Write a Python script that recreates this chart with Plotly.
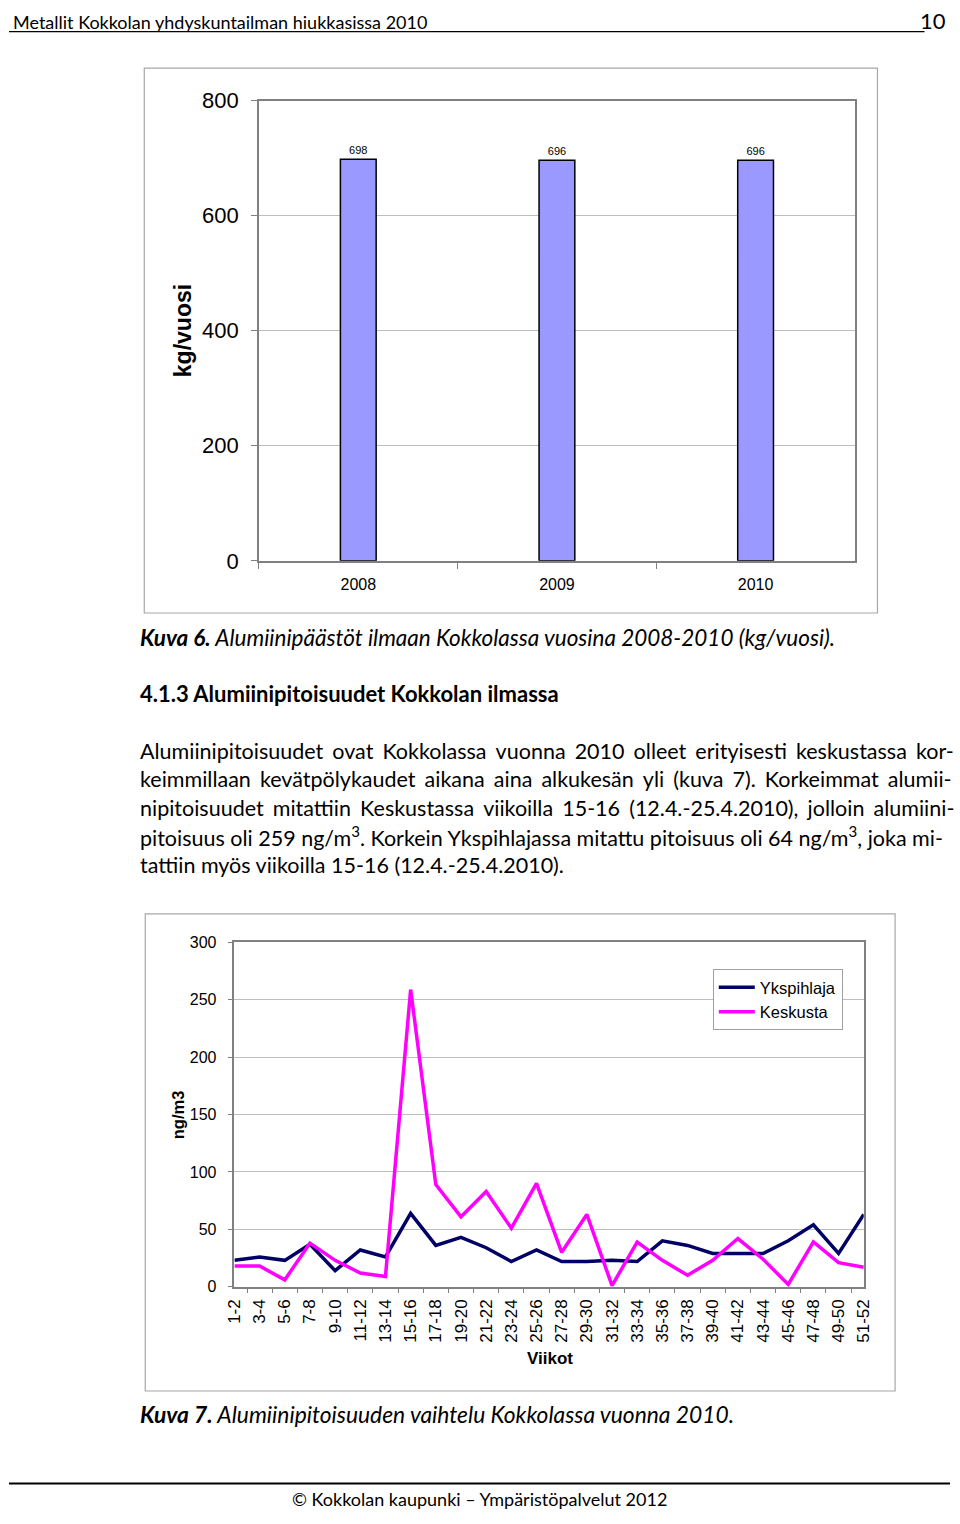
import plotly.graph_objects as go

W, H = 960, 1524

# ---- data ----
years = ["2008", "2009", "2010"]
emissions = [698, 696, 696]

weeks = ["1-2", "3-4", "5-6", "7-8", "9-10", "11-12", "13-14", "15-16", "17-18", "19-20",
         "21-22", "23-24", "25-26", "27-28", "29-30", "31-32", "33-34", "35-36", "37-38",
         "39-40", "41-42", "43-44", "45-46", "47-48", "49-50", "51-52"]
ykspihlaja = [23, 26, 23, 37, 14, 32, 26, 64, 36, 43, 34, 22, 32, 22, 22, 23, 22, 40, 36,
              29, 29, 29, 40, 54, 29, 63]
keskusta = [18, 18, 6, 38, 23, 12, 9, 259, 89, 61, 83, 51, 90, 30, 63, 1, 39, 23, 10,
            23, 42, 24, 2, 39, 21, 17]


def px(x):
    return x / W


def py(y):
    return 1 - y / H


TXT = "Lato"
CH = "Liberation Sans Narrow, Arial Narrow, Liberation Sans, Arial"

fig = go.Figure()

fig.add_trace(go.Bar(
    x=years, y=emissions, xaxis="x", yaxis="y", width=0.18,
    marker=dict(color="#9999FF", line=dict(color="black", width=1.5)),
    text=emissions, textposition="outside", cliponaxis=False,
    textfont=dict(family="Liberation Sans, Arial", size=11, color="black"),
    showlegend=False, hoverinfo="skip",
))

fig.add_trace(go.Scatter(
    x=weeks, y=ykspihlaja, xaxis="x2", yaxis="y2", mode="lines", name="Ykspihlaja",
    line=dict(color="#000066", width=3.5),
))
fig.add_trace(go.Scatter(
    x=weeks, y=keskusta, xaxis="x2", yaxis="y2", mode="lines", name="Keskusta",
    line=dict(color="#FF00FF", width=3.5),
))

grid = "#BDBDBD"
border = "#808080"

fig.update_layout(
    width=W, height=H, margin=dict(l=0, r=0, t=0, b=0),
    paper_bgcolor="white", plot_bgcolor="white",
    font=dict(family=CH, color="black"),
    xaxis=dict(domain=[px(255), px(863)], anchor="y", type="category",
               tickson="boundaries", ticks="outside", ticklen=6, tickcolor=border,
               showgrid=False, showline=True, linecolor=border, linewidth=1.5, mirror=True,
               tickfont=dict(size=16, family=CH), ticklabelstandoff=8),
    yaxis=dict(domain=[py(558), py(90)], anchor="x", range=[0, 800], dtick=200,
               ticks="outside", ticklen=6, tickcolor=border,
               showgrid=True, gridcolor=grid, gridwidth=1,
               showline=True, linecolor=border, linewidth=1.5, mirror=True,
               tickfont=dict(size=22, family=CH), ticklabelstandoff=8, zeroline=False),
    xaxis2=dict(domain=[px(230), px(872)], anchor="y2", type="category",
                tickson="boundaries", ticks="outside", ticklen=5, tickcolor=border,
                showgrid=False, showline=True, linecolor=border, linewidth=1.5, mirror=True,
                tickangle=-90, tickfont=dict(size=17, family=CH), ticklabelstandoff=4),
    yaxis2=dict(domain=[py(1296), py(946)], anchor="x2", range=[0, 300], dtick=50,
                ticks="outside", ticklen=5, tickcolor=border,
                showgrid=True, gridcolor=grid, gridwidth=1,
                showline=True, linecolor=border, linewidth=1.5, mirror=True,
                tickfont=dict(size=16, family=CH), ticklabelstandoff=8, zeroline=False),
    legend=dict(x=px(718), y=py(973), xanchor="left", yanchor="top",
                bordercolor="#A0A0A0", borderwidth=1, bgcolor="white",
                font=dict(size=16.5, family=CH), tracegroupgap=0, itemwidth=36),
)

shapes = [
    dict(type="rect", xref="paper", yref="paper", x0=px(138), x1=px(886), y0=py(611), y1=py(57),
         line=dict(color="#A8A8A8", width=1.2)),
    dict(type="rect", xref="paper", yref="paper", x0=px(139), x1=px(904), y0=py(1402), y1=py(917),
         line=dict(color="#A8A8A8", width=1.2)),
    dict(type="line", xref="paper", yref="paper", x0=px(0), x1=px(934), y0=py(20), y1=py(20),
         line=dict(color="black", width=1.2)),
    dict(type="line", xref="paper", yref="paper", x0=px(0), x1=px(960), y0=py(1496), y1=py(1496),
         line=dict(color="black", width=2)),
]
fig.update_layout(shapes=shapes)


def ann(text, x, y, size, family=TXT, xanchor="left", angle=0, **kw):
    fig.add_annotation(text=text, x=px(x), y=py(y), xref="paper", yref="paper",
                       xanchor=xanchor, yanchor="middle", showarrow=False, textangle=angle,
                       font=dict(size=size, family=family, color="black"), **kw)


ann("Metallit Kokkolan yhdyskuntailman hiukkasissa 2010", 2, 10, 18)
ann("10", 958, 9, 22, xanchor="right")

ann("<b>kg/vuosi</b>", 177, 324, 23, family="Liberation Sans, Arial", xanchor="center", angle=-90)
ann("<b>ng/m3</b>", 172, 1121, 16.5, family="Liberation Sans, Arial", xanchor="center", angle=-90)
ann("<b>Viikot</b>", 552, 1369, 17, family="Liberation Sans Narrow, Arial", xanchor="center")

ann("<b><i>Kuva 6.</i></b><i> Alumiinipäästöt ilmaan Kokkolassa vuosina 2008-2010 (kg/vuosi).</i>",
    132, 636, 22.5)
ann("<b>4.1.3 Alumiinipitoisuudet Kokkolan ilmassa</b>", 132, 693, 22)

para = [
    "Alumiinipitoisuudet ovat Kokkolassa vuonna 2010 olleet erityisesti keskustassa kor-",
    "keimmillaan kevätpölykaudet aikana aina alkukesän yli (kuva 7). Korkeimmat alumii-",
    "nipitoisuudet mitattiin Keskustassa viikoilla 15-16 (12.4.-25.4.2010), jolloin alumiini-",
    "pitoisuus oli 259 ng/m<sup>3</sup>. Korkein Ykspihlajassa mitattu pitoisuus oli 64 ng/m<sup>3</sup>, joka mi-",
    "tattiin myös viikoilla 15-16 (12.4.-25.4.2010).",
]
# extra inter-word spacing to approximate the justified lines
pads = ["\u2006", "\u2006", "\u2006", "", ""]
for i, line in enumerate(para):
    ann(line.replace(" ", " " + pads[i]), 132, 751 + i * 29, 21.5)

ann("<b><i>Kuva 7.</i></b><i> Alumiinipitoisuuden vaihtelu Kokkolassa vuonna 2010.</i>",
    132, 1425, 22.8)
ann("© Kokkolan kaupunki – Ympäristöpalvelut 2012", 480, 1512, 18, xanchor="center")

fig.write_html("out.html", config={"displayModeBar": False},
               post_script="document.body.style.margin='0';document.body.style.overflow='hidden';")
